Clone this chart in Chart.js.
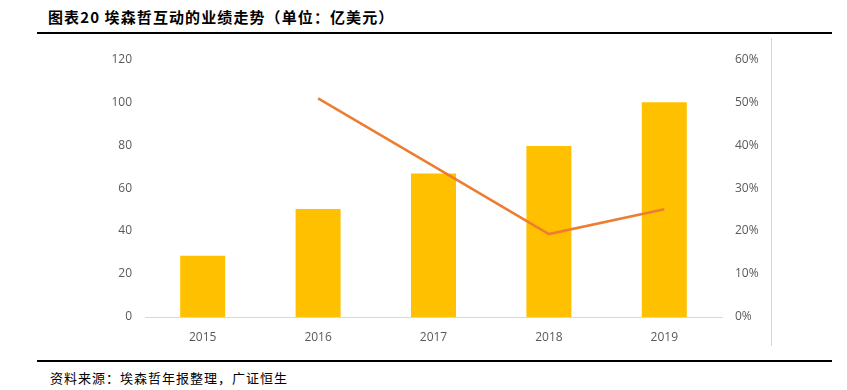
<!DOCTYPE html>
<html lang="zh">
<head>
    <meta charset="UTF-8">
    <title>埃森哲互动的业绩走势</title>
    <style>
        body {
            margin: 0;
            background: #fff;
            width: 847px;
            height: 390px;
            position: relative;
            overflow: hidden;
            font-family: "Noto Sans CJK SC", sans-serif;
        }
        #title {
            position: absolute;
            left: 48px;
            top: 6px;
            font-size: 15px;
            font-weight: bold;
            color: #000;
            letter-spacing: 1.1px;
        }
        .rule {
            position: absolute;
            left: 37px;
            width: 795px;
            height: 2px;
            background: #000;
        }
        #source {
            position: absolute;
            left: 50px;
            top: 368px;
            font-size: 13px;
            color: #000;
            letter-spacing: 1px;
        }
        #edge {
            position: absolute;
            left: 771px;
            top: 38px;
            width: 1px;
            height: 308px;
            background: #d6d6d6;
        }
        #wrap {
            position: absolute;
            left: 60px;
            top: 39px;
            width: 740px;
            height: 312px;
        }
    </style>
</head>
<body>
    <div id="title">图表20 埃森哲互动的业绩走势（单位：亿美元）</div>
    <div class="rule" style="top: 32px;"></div>
    <div id="edge"></div>
    <div id="wrap"><canvas id="chart"></canvas></div>
    <div class="rule" style="top: 360px;"></div>
    <div id="source">资料来源：埃森哲年报整理，广证恒生</div>

    <script src="https://cdn.jsdelivr.net/npm/chart.js"></script>
    <script>
        const years = ['2015', '2016', '2017', '2018', '2019'];
        const revenue = [28.5, 50.3, 66.8, 79.6, 100];      // 亿美元
        const growth = [null, 50.9, 35.1, 19.3, 25.1];      // %
        const leftTicks = [0, 20, 40, 60, 80, 100, 120];
        const rightTicks = [0, 10, 20, 30, 40, 50, 60];

        const tickFont = { family: 'Open Sans, Liberation Sans, sans-serif', size: 12 };
        const tickColor = '#595959';

        new Chart(document.getElementById('chart'), {
            data: {
                labels: years,
                datasets: [
                    {
                        type: 'line',
                        data: growth,
                        yAxisID: 'y1',
                        borderColor: '#ED7D31',
                        borderWidth: 2.5,
                        pointRadius: 0,
                        tension: 0,
                        order: 0
                    },
                    {
                        type: 'bar',
                        data: revenue,
                        yAxisID: 'y',
                        backgroundColor: '#FFC000',
                        categoryPercentage: 1,
                        barPercentage: 0.39,
                        order: 1
                    }
                ]
            },
            options: {
                responsive: true,
                maintainAspectRatio: false,
                animation: false,
                layout: { padding: { top: 7, left: 0, right: 0, bottom: 0 } },
                plugins: {
                    legend: { display: false },
                    tooltip: { enabled: false }
                },
                scales: {
                    x: {
                        grid: { display: false, drawTicks: false },
                        border: { display: true, color: '#d9d9d9', width: 1 },
                        ticks: { color: tickColor, font: tickFont, padding: 13 },
                        afterFit: s => { s.height = 34; }
                    },
                    y: {
                        position: 'left',
                        min: 0,
                        max: 120,
                        afterBuildTicks: s => { s.ticks = leftTicks.map(v => ({ value: v })); },
                        grid: { display: false, drawTicks: false },
                        border: { display: false },
                        ticks: { color: tickColor, font: tickFont, padding: 13 },
                        afterFit: s => { s.width = 85; }
                    },
                    y1: {
                        position: 'right',
                        min: 0,
                        max: 60,
                        afterBuildTicks: s => { s.ticks = rightTicks.map(v => ({ value: v })); },
                        grid: { display: false, drawTicks: false },
                        border: { display: false },
                        ticks: {
                            color: tickColor,
                            font: tickFont,
                            padding: 13,
                            callback: v => v + '%'
                        },
                        afterFit: s => { s.width = 78; }
                    }
                }
            }
        });
    </script>
</body>
</html>
